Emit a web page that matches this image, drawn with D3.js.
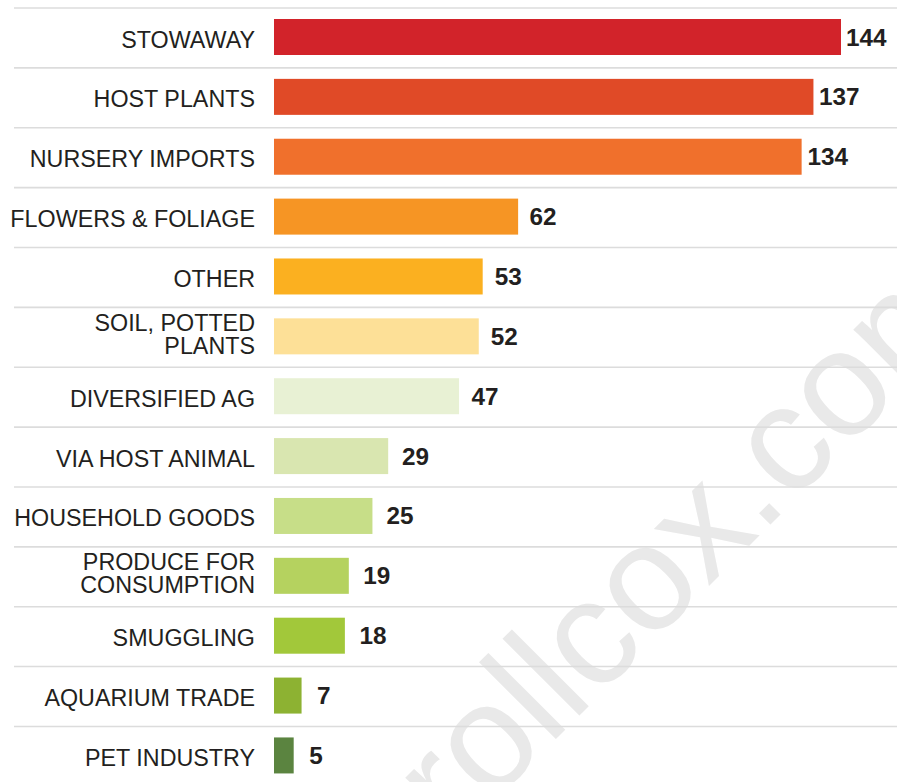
<!DOCTYPE html>
<html>
<head>
<meta charset="utf-8">
<script src="https://cdn.jsdelivr.net/npm/d3@7"></script>
<style>
  html, body { margin: 0; padding: 0; background: #fff; }
  svg { display: block; }
  .label { font-family: "Liberation Sans", Arial, sans-serif; font-size: 23.3px; fill: #231f20; }
  .value { font-family: "Liberation Sans", Arial, sans-serif; font-size: 24.3px; font-weight: bold; fill: #231f20; }
</style>
</head>
<body>
<div id="chart"></div>
<script>
const width = 897
const height = 782

// pathways (top to bottom), \n marks a line break in the label
const categories = [
  'STOWAWAY', 'HOST PLANTS', 'NURSERY IMPORTS', 'FLOWERS & FOLIAGE', 'OTHER',
  'SOIL, POTTED\nPLANTS', 'DIVERSIFIED AG', 'VIA HOST ANIMAL', 'HOUSEHOLD GOODS',
  'PRODUCE FOR\nCONSUMPTION', 'SMUGGLING', 'AQUARIUM TRADE', 'PET INDUSTRY'
]
const values = [144, 137, 134, 62, 53, 52, 47, 29, 25, 19, 18, 7, 5]
const colors = [
  '#d2232a', '#e04a27', '#f0702c', '#f69524', '#fbb020',
  '#fde097', '#e8f1d4', '#d9e6b0', '#c7de88',
  '#b5d25f', '#a2c83a', '#8db232', '#5b8440'
]

const rows = categories.map((c, i) => ({ name: c, value: values[i], color: colors[i] }))

const svg = d3.select('#chart')
  .append('svg')
  .attr('width', width)
  .attr('height', height)

const x = d3.scaleLinear()
  .domain([0, 144])
  .range([274, 841])

// value labels sit a little further out on short bars
const xLabel = d3.scaleLinear()
  .domain([0, 144])
  .range([290, 846])

const y = d3.scaleBand()
  .domain(categories)
  .range([8, 8 + 59.87 * categories.length])

// faint watermark
svg.append('text')
  .attr('transform', 'translate(307,988) rotate(-45)')
  .style('font-family', '"Liberation Sans", Arial, sans-serif')
  .style('font-size', '150px')
  .attr('fill', '#e9e9e9')
  .text('carrollcox.com')

// row separators
svg.selectAll('line.sep')
  .data(categories)
  .enter()
  .append('line')
  .attr('class', 'sep')
  .attr('x1', 14)
  .attr('x2', width)
  .attr('y1', d => y(d))
  .attr('y2', d => y(d))
  .attr('stroke', '#dcdcdc')
  .attr('stroke-width', 1.6)

svg.selectAll('rect.bar')
  .data(rows)
  .enter()
  .append('rect')
  .attr('class', 'bar')
  .attr('x', x(0))
  .attr('y', d => y(d.name) + 11)
  .attr('width', d => x(d.value) - x(0))
  .attr('height', 36)
  .attr('fill', d => d.color)

const labels = svg.selectAll('text.label')
  .data(rows)
  .enter()
  .append('text')
  .attr('class', 'label')
  .attr('text-anchor', 'end')

labels.each(function (d) {
  const lines = d.name.split('\n')
  const t = d3.select(this)
  const top = y(d.name)
  if (lines.length === 1) {
    t.append('tspan').attr('x', 255).attr('y', top + 39.5).text(lines[0])
  } else {
    t.append('tspan').attr('x', 255).attr('y', top + 23.6).text(lines[0])
    t.append('tspan').attr('x', 255).attr('y', top + 46.6).text(lines[1])
  }
})

svg.selectAll('text.value')
  .data(rows)
  .enter()
  .append('text')
  .attr('class', 'value')
  .attr('x', d => xLabel(d.value))
  .attr('y', d => y(d.name) + 37.5)
  .text(d => d.value)
</script>
</body>
</html>
